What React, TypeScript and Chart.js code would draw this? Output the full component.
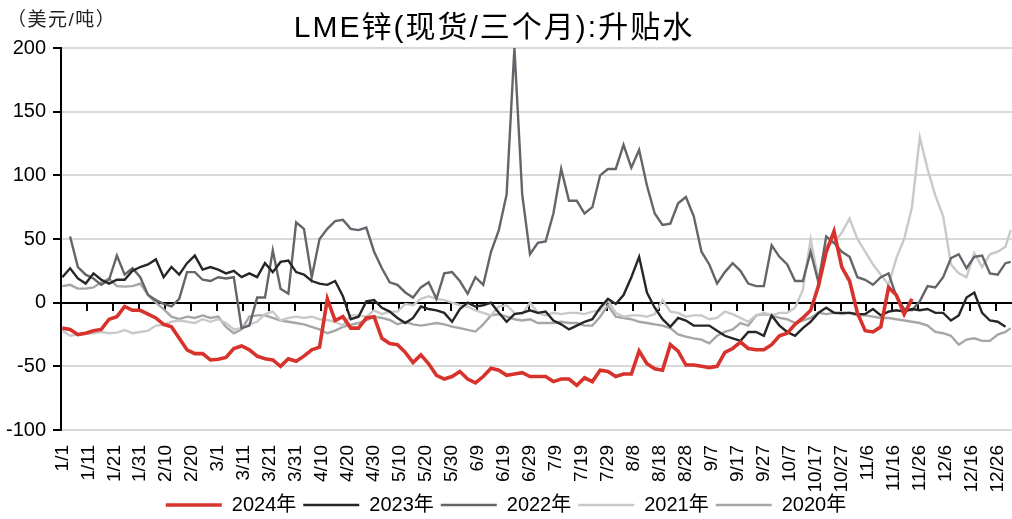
import React, { useEffect, useRef } from 'react';
import { Chart, registerables } from 'chart.js';

Chart.register(...registerables);

const FONT = '"Liberation Sans", "Noto Sans CJK SC", sans-serif';
const TITLE = 'LME锌(现货/三个月):升贴水';
const UNIT = '（美元/吨）';

// x tick labels, one every 10 days (day 0 = 1/1)
const TICK_LABELS = ['1/1','1/11','1/21','1/31','2/10','2/20','3/1','3/11','3/21','3/31','4/10','4/20','4/30','5/10','5/20','5/30','6/9','6/19','6/29','7/9','7/19','7/29','8/8','8/18','8/28','9/7','9/17','9/27','10/7','10/17','10/27','11/6','11/16','11/26','12/6','12/16','12/26'];

// sample days (day of year, 0-based): every 3rd day, plus the last day
const SAMPLE_DAYS: number[] = Array.from({ length: 122 }, (_, i) => i * 3).concat([365]);

const S2024: (number | null)[] = [
  -20,-21,-25,-24,-22,-21,-13,-11,-3,-6,
  -6,-9,-12,-17,-19,-28,-37,-40,-40,-45,
  -44.5,-43,-36,-34,-37,-42,-44,-45,-50,-44,
  -46,-42,-37,-35,3,-14,-11,-20,-20,-12,
  -11,-28,-32,-33,-39,-47,-41,-48,-57,-60,
  -58,-54,-60,-63,-58,-51.5,-53,-57,-56,-55,
  -58,-58,-58,-62,-60,-60,-65,-59,-62,-53,
  -54,-58,-56,-56,-38,-48,-52,-53,-33,-38,
  -49,-49,-50,-51,-50,-39,-36,-31,-36,-37,
  -37,-33,-26,-24,-17,-12,-6,13,40,56,
  28,17,-8,-22,-23,-19,12,6,-9,3,
  null,null,null,null,null,null,null,null,null,null,
  null,null,null
];

const S2023: (number | null)[] = [
  20,27,19,15,23,18,15,18,18,25,
  28,30,34,20,28,22,31,37,26,28,
  26,23,25,20,23,20,31,24,32,33,
  24,22,17,15,14,17,5,-13,-11,1,
  2,-4,-7,-12,-16,-12,-3,-5,-6,-8,
  -15,-5,0,-3,-2,0,-8,-15,-9,-8,
  -6,-8,-7,-14,-17,-21,-18,-15,-13,-4,
  3,-1,6,20,36,8,-4,-13,-19,-12,
  -14,-18,-18,-18,-22,-26,-28,-30,-23,-23,
  -26,-10,-18,-23,-26,-20,-15,-8,-4,-8,
  -8,-8,-9,-9,-5,-10,-7,-6,-7,-5,
  -6,-5,-8,-8,-14,-10,4,8,-8,-14,
  -15,-19,null
];

const S2022: (number | null)[] = [
  null,52,28,22,19,14,18,37,22,27,
  20,6,2,-1,-3,3,24,24,18,17,
  20,19,20,-20,-18,4,4,41,11,7,
  63,58,20,50,58,64,65,58,57,59,
  40,27,16,14,8,4,12,16,3,23,
  24,17,7,20,14,40,57,85,200,85,
  38,47,48,70,105,80,80,70,75,100,
  105,105,124,106,120,92,70,61,62,78,
  83,68,40,30,15,24,31,25,15,13,
  13,45,36,30,17,17,40,16,52,47,
  40,36,20,18,14,20,23,5,-5,-6,
  1,13,12,20,35,38,27,36,37,23,
  22,31,32
];

const S2021: (number | null)[] = [
  -22,-26,-25,-24.5,-24,-23,-24,-23.5,-21.5,-24,
  -23,-22,-18,-17.5,-15,-14,-15,-16,-13,-15,
  -13,-16,-21,-20,-17,-15,-9,-7,-14,-12,
  -11,-12,-11,-13,-13.6,-15,-18,-10,-10,-11,
  -6,-9,-7,-7,-1,-2,3,5,3,2,
  0,-2,-3,-6,-8,-10,-3,-2,-8,-9,
  0,-8,-10,-8,-9,-8,-8,-9,-7,-6,
  2,-8,-11,-10,-10,-11,-9,2,-7,-8,
  -11,-10,-10,-13,-12,-7,-9,-12,-15,-10,
  -8,-10,-8,-8,-4,10,50,18,45,47,
  55,66,50,40,30,22,14,35,50,75,
  130,105,84,68,30,23,20,39,28,38,
  40,44,57
];

const S2020: (number | null)[] = [
  13,14,11,11,12,16,19,13,12.6,13,
  15,6,0,-5,-11,-13,-11,-12,-10,-12,
  -11,-19,-24,-21,-11,-10,-10,-12,-14,-15,
  -16,-17,-19,-21,-24,-22,-19,-17.5,-16,-14,
  -11,-12,-13.6,-17,-15,-17,-18,-17,-16,-17,
  -18.8,-20,-21.4,-22.7,-17,-10,-9,-11,-13,-14,
  -13,-16,-16,-16,-15,-16,-16,-18,-18,-11,
  -2,-11,-12,-13,-15,-16,-17,-18,-20,-25,
  -26.7,-28,-29,-32,-26,-23,-21,-16,-18,-10,
  -9,-10,-12,-13,-16,-14,-12,-8,-9,-8,
  -9,-8,-10,-10,-11,-12,-12,-13,-14,-15,
  -16,-18,-23,-24,-26,-33,-29,-28,-30,-30,
  -25,-23,-20
];

const SERIES = [
  { label: '2024年', values: S2024, color: '#d8322c', width: 3.6 },
  { label: '2023年', values: S2023, color: '#262626', width: 2.4 },
  { label: '2022年', values: S2022, color: '#64656a', width: 2.4 },
  { label: '2021年', values: S2021, color: '#c9c9c9', width: 2.4 },
  { label: '2020年', values: S2020, color: '#a6a6a6', width: 2.4 },
];

const zeroAxisPlugin = {
  id: 'zeroAxis',
  afterLayout(chart: any) {
    // let the rotated x labels run past the axis box without being clipped
    chart.scales.x.bottom = chart.height;
  },
  beforeDatasetsDraw(chart: any) {
    const { ctx, chartArea, scales } = chart;
    const x = scales.x;
    const y = scales.y;
    const py = Math.round(y.getPixelForValue(0));
    ctx.save();
    ctx.strokeStyle = '#000';
    ctx.lineWidth = 2;
    ctx.beginPath();
    ctx.moveTo(chartArea.left, py);
    ctx.lineTo(chartArea.right, py);
    for (let i = 0; i < TICK_LABELS.length - 1; i++) {
      const px = Math.round(x.getPixelForValue(i * 10 + 9.5));
      ctx.moveTo(px, py);
      ctx.lineTo(px, py + 8);
    }
    ctx.stroke();
    ctx.restore();
  },
};

const textPlugin = {
  id: 'texts',
  afterDraw(chart: any) {
    const ctx = chart.ctx;
    ctx.save();
    ctx.fillStyle = '#000';
    ctx.textBaseline = 'alphabetic';
    ctx.textAlign = 'center';
    ctx.font = `30px ${FONT}`;
    (ctx as any).letterSpacing = '2px';
    ctx.fillText(TITLE, 494, 37);
    ctx.textAlign = 'left';
    ctx.font = `19px ${FONT}`;
    (ctx as any).letterSpacing = '1.5px';
    ctx.fillStyle = '#222';
    ctx.fillText(UNIT, 7, 26);
    ctx.restore();
  },
};

export default function App() {
  const canvasRef = useRef<HTMLCanvasElement | null>(null);

  useEffect(() => {
    const canvas = canvasRef.current;
    if (!canvas) return;
    const chart = new Chart(canvas, {
      type: 'line',
      data: {
        datasets: SERIES.map((s) => ({
          label: s.label,
          data: SAMPLE_DAYS.map((d, i) => ({ x: d, y: s.values[i] ?? null })),
          borderColor: s.color,
          backgroundColor: s.color,
          borderWidth: s.width,
          pointRadius: 0,
          tension: 0,
          spanGaps: true,
          fill: false,
        })),
      },
      options: {
        animation: false,
        responsive: false,
        devicePixelRatio: 1,
        layout: { padding: { top: 48, left: 0, right: 0, bottom: -6 } },
        plugins: {
          legend: {
            position: 'bottom',
            labels: {
              usePointStyle: true,
              pointStyle: 'line',
              pointStyleWidth: 56,
              color: '#000',
              padding: 7,
              font: { family: FONT, size: 20 },
            },
          },
          tooltip: { enabled: false },
          title: { display: false },
        },
        scales: {
          x: {
            type: 'linear',
            min: -0.5,
            max: 365.5,
            bounds: 'data',
            afterBuildTicks: (s: any) => {
              s.ticks = TICK_LABELS.map((_, i) => ({ value: i * 10 }));
            },
            afterFit: (s: any) => {
              s.height = 58;
              s.paddingLeft = 0;
              s.paddingRight = 0;
            },
            grid: { display: false, drawTicks: false },
            border: { display: false },
            ticks: {
              autoSkip: false,
              maxRotation: 90,
              minRotation: 90,
              padding: 15,
              color: '#000',
              font: { family: FONT, size: 19 },
              callback: (_v: any, i: number) => TICK_LABELS[i] ?? '',
            },
          },
          y: {
            min: -100,
            max: 200,
            afterFit: (s: any) => {
              s.width = 61;
            },
            ticks: {
              stepSize: 50,
              color: '#000',
              padding: 7,
              font: { family: FONT, size: 20 },
            },
            grid: {
              color: '#d9d9d9',
              lineWidth: 2,
              tickColor: '#000',
              tickLength: 8,
              tickWidth: 2,
              drawTicks: true,
            },
            border: { display: true, color: '#000', width: 2 },
          },
        },
      } as any,
      plugins: [zeroAxisPlugin, textPlugin],
    });
    return () => chart.destroy();
  }, []);

  return (
    <div style={{ position: 'absolute', left: 0, top: 0, width: 1012, height: 519, background: '#fff' }}>
      <canvas ref={canvasRef} width={1012} height={519} style={{ display: 'block' }} />
    </div>
  );
}
